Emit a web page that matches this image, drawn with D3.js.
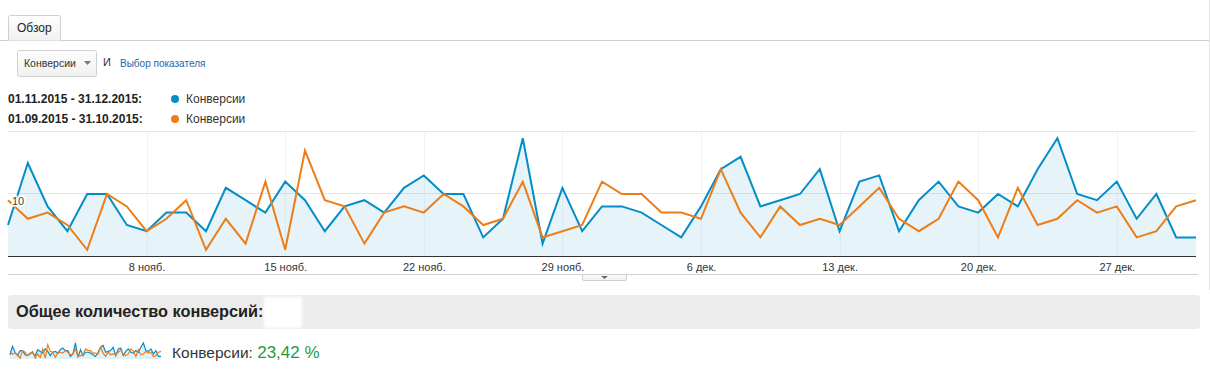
<!DOCTYPE html>
<html>
<head>
<meta charset="utf-8">
<script src="https://cdn.jsdelivr.net/npm/d3@7"></script>
<style>
  html, body { margin: 0; padding: 0; background: #fff; }
  svg { display: block; font-family: "Liberation Sans", Arial, sans-serif; }
</style>
</head>
<body>
<svg id="chart" width="1210" height="379"></svg>
<script>
// ---- data ----
const startDate = "2015-11-01";
const currentValues = [5,15,8,4,10,10,5,4,7,7,4,11,9,7,12,9,4,8,9,7,11,13,10,10,3,6,19,2,11,4,
                       8,8,7,5,3,8,14,16,8,9,10,14,4,12,13,4,9,12,8,7,10,8,14,19,10,9,12,6,10,3,3];
const previousValues = [9,6,7,5,1,10,8,4,6,9,1,6,2,12,1,17,9,8,2,7,8,7,10,8,5,6,12,3,4,5,
                        12,10,10,7,7,6,14,7,3,8,5,6,5,8,11,6,4,6,12,9,3,11,5,6,9,7,8,3,4,8,9];
const xTickDates = ["2015-11-08","2015-11-15","2015-11-22","2015-11-29","2015-12-06","2015-12-13","2015-12-20","2015-12-27"];
const xTickLabels = ["8 нояб.","15 нояб.","22 нояб.","29 нояб.","6 дек.","13 дек.","20 дек.","27 дек."];
const yTickValues = [0,10,20];
const yTickLabels = ["","10",""];
const legendRanges = ["01.11.2015 - 31.12.2015:","01.09.2015 - 31.10.2015:"];
const metricName = "Конверсии";
const summaryTitle = "Общее количество конверсий:";
const changeText = "23,42 %";

// ---- helpers ----
const parse = d3.timeParse("%Y-%m-%d");
const t0 = parse(startDate);
const dates = currentValues.map((_, i) => d3.timeDay.offset(t0, i));
const cur = currentValues.map((v, i) => ({date: dates[i], v}));
const prev = previousValues.map((v, i) => ({date: dates[i], v}));

const BLUE = "#058dc7", ORANGE = "#ed7e17";
const svg = d3.select("#chart");
const defs = svg.append("defs");
const g1 = defs.append("linearGradient").attr("id","btn").attr("x1",0).attr("y1",0).attr("x2",0).attr("y2",1);
g1.append("stop").attr("offset","0%").attr("stop-color","#fefefe");
g1.append("stop").attr("offset","100%").attr("stop-color","#f0f0f0");
defs.append("filter").attr("id","blur").append("feGaussianBlur").attr("stdDeviation",1.5);

// ---- tab header ----
svg.append("line").attr("x1",0).attr("x2",1209).attr("y1",40.5).attr("y2",40.5).attr("stroke","#cfcfcf");
svg.append("line").attr("x1",1209.5).attr("x2",1209.5).attr("y1",0).attr("y2",290).attr("stroke","#e3e3e3");
svg.append("path").attr("d","M8.5,40.5 V17.5 Q8.5,15.5 10.5,15.5 H58.5 Q60.5,15.5 60.5,17.5 V40.5")
  .attr("fill","url(#btn)").attr("stroke","#cfcfcf");
svg.append("text").attr("x",17).attr("y",32).attr("font-size",12).attr("fill","#222").text("Обзор");

// ---- metric selector ----
svg.append("rect").attr("x",17.5).attr("y",50.5).attr("width",79).attr("height",26).attr("rx",2)
  .attr("fill","url(#btn)").attr("stroke","#d0d0d0");
svg.append("text").attr("x",24).attr("y",67).attr("font-size",10.5).attr("fill","#333").text(metricName);
svg.append("path").attr("d","M84,61 L91,61 L87.5,65 Z").attr("fill","#777");
svg.append("text").attr("x",103).attr("y",66).attr("font-size",11).attr("fill","#333").text("И");
svg.append("text").attr("x",120).attr("y",67).attr("font-size",10).attr("fill","#1f64a8").text("Выбор показателя");

// ---- legend ----
[BLUE, ORANGE].forEach((c, i) => {
  const y = 103 + i * 20;
  svg.append("text").attr("x",8).attr("y",y).attr("font-size",12).attr("font-weight","bold").attr("fill","#222").text(legendRanges[i]);
  svg.append("circle").attr("cx",175).attr("cy",y-4).attr("r",4).attr("fill",c);
  svg.append("text").attr("x",186).attr("y",y).attr("font-size",12).attr("fill","#333").text(metricName);
});

// ---- main chart ----
const x = d3.scaleTime().domain([dates[0], dates[dates.length-1]]).range([8,1196]);
const y = d3.scaleLinear().domain([0,20]).range([256,132]);

// vertical faint grid at week ticks
svg.append("g").selectAll("line").data(xTickDates.map(parse)).join("line")
  .attr("x1", d => Math.round(x(d)) + 0.5).attr("x2", d => Math.round(x(d)) + 0.5)
  .attr("y1", y(20)).attr("y2", y(0)).attr("stroke","#f4f4f4");
// horizontal grid
svg.append("g").selectAll("line").data(yTickValues.slice(1)).join("line")
  .attr("x1",8).attr("x2",1196).attr("y1", d => Math.round(y(d)) - 0.5).attr("y2", d => Math.round(y(d)) - 0.5)
  .attr("stroke","#e6e6e6");

// area under current series
svg.append("path").datum(cur)
  .attr("d", d3.area().x(d => x(d.date)).y0(y(0)).y1(d => y(d.v)))
  .attr("fill", BLUE).attr("fill-opacity", 0.1);

const line = d3.line().x(d => x(d.date)).y(d => y(d.v));
svg.append("path").datum(cur).attr("d", line).attr("fill","none").attr("stroke",BLUE)
  .attr("stroke-width",2).attr("stroke-linejoin","miter");
svg.append("path").datum(prev).attr("d", line).attr("fill","none").attr("stroke",ORANGE)
  .attr("stroke-width",2).attr("stroke-linejoin","miter");

// y label
yTickValues.forEach((v, i) => {
  if (!yTickLabels[i]) return;
  svg.append("text").attr("x",12).attr("y", y(v) + 11).attr("font-size",11)
    .attr("fill","#444").attr("stroke","#fff").attr("stroke-width",3).attr("paint-order","stroke")
    .text(yTickLabels[i]);
});

// x axis
const xAxis = d3.axisBottom(x)
  .tickValues(xTickDates.map(parse))
  .tickFormat((d, i) => xTickLabels[i])
  .tickSize(0).tickPadding(7);
const ax = svg.append("g").attr("transform", `translate(0,${y(0)})`).call(xAxis);
ax.select(".domain").attr("stroke","#333").attr("d","M8,0.5H1196");
ax.selectAll("text").attr("font-size",11).attr("fill","#333").attr("font-family","Liberation Sans, Arial, sans-serif");

// divider + collapse handle
svg.append("line").attr("x1",8).attr("x2",1198).attr("y1",274.5).attr("y2",274.5).attr("stroke","#d0d0d0");
svg.append("rect").attr("x",582.5).attr("y",274.5).attr("width",44).attr("height",6).attr("rx",1.5)
  .attr("fill","url(#btn)").attr("stroke","#cfcfcf");
svg.append("path").attr("d","M601,276 L608,276 L604.5,279 Z").attr("fill","#666");

// ---- summary ----
svg.append("rect").attr("x",8).attr("y",295).attr("width",1192).attr("height",34).attr("rx",4).attr("fill","#ececec");
svg.append("text").attr("x",16).attr("y",317).attr("font-size",16.3).attr("font-weight","bold").attr("fill","#222").text(summaryTitle);
svg.append("rect").attr("x",264).attr("y",297).attr("width",38).attr("height",31).attr("fill","#fff").attr("filter","url(#blur)");

// sparkline
const sx = d3.scaleTime().domain([dates[0], dates[dates.length-1]]).range([10,161]);
const sy = d3.scaleLinear().domain([0,19]).range([359,343]);
svg.append("path").datum(cur).attr("d", d3.area().x(d => sx(d.date)).y0(sy(0)).y1(d => sy(d.v)))
  .attr("fill", BLUE).attr("fill-opacity", 0.12);
const sline = d3.line().x(d => sx(d.date)).y(d => sy(d.v));
svg.append("path").datum(cur).attr("d", sline).attr("fill","none").attr("stroke",BLUE).attr("stroke-width",1.2);
svg.append("path").datum(prev).attr("d", sline).attr("fill","none").attr("stroke",ORANGE).attr("stroke-width",1.2);

const st = svg.append("text").attr("x",172).attr("y",358).attr("font-size",15.5);
st.append("tspan").attr("fill","#333").text(metricName + ": ");
st.append("tspan").attr("fill","#1e9a40").attr("font-size",17).text(changeText);
</script>
</body>
</html>
